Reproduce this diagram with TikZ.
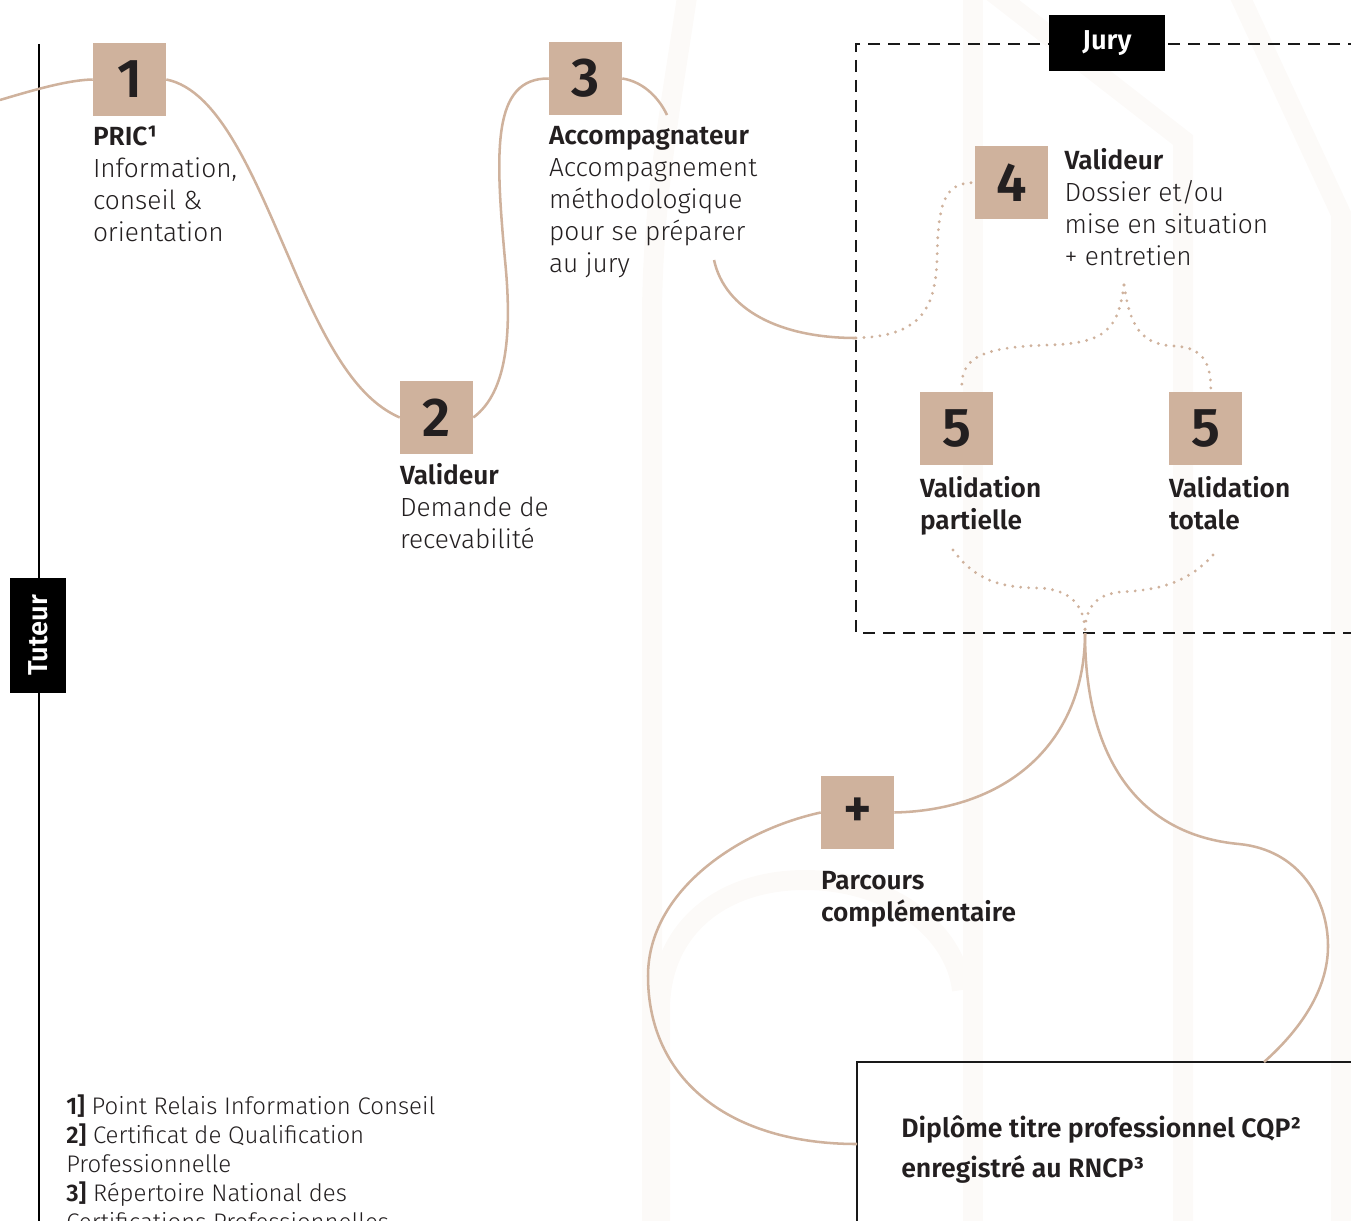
\documentclass[tikz,border=0pt]{standalone}
\usepackage{fontspec}
\setmainfont{Fira Sans}[UprightFont={* Light},BoldFont={* SemiBold}]
\usetikzlibrary{positioning}
\definecolor{tan}{RGB}{207,178,157}
\definecolor{faint}{RGB}{252,250,248}
\definecolor{ink}{RGB}{35,31,32}

\begin{document}
\begin{tikzpicture}[x=0.75pt,y=-0.75pt,
    numbox/.style={fill=tan,minimum size=54.75pt,inner sep=0pt,text=ink,font=\fontsize{41}{41}\selectfont\bfseries},
    lbl/.style={inner sep=0pt,align=left,text=ink,font=\fontsize{19.7}{24}\selectfont},
    link/.style={draw=tan,line width=1.9pt},
    dots/.style={draw=tan,line width=2.4pt,line cap=round,dash pattern=on 0pt off 6pt},
    tag/.style={fill=black,text=white,inner sep=0pt,font=\fontsize{20.5}{24}\selectfont\bfseries},
    bgband/.style={draw=faint,line width=15pt}]

\useasboundingbox (0,0) rectangle (1351,1220);
\clip (0,0) rectangle (1351,1220);

% faint background bands
\draw[bgband] (688,-10) .. controls (672,100) and (652,200) .. (652,320) -- (652,1230);
\draw[bgband] (973,-10) -- (973,1230);
\draw[bgband] (990,-10) -- (1183,140) -- (1183,1230);
\draw[bgband] (1237,-10) -- (1341,214) -- (1341,1230);
\draw[bgband] (660,1230) -- (660,1010) .. controls (660,930) and (720,880) .. (805,880) .. controls (890,880) and (955,930) .. (962,990);

% tuteur line
\coordinate (ttop) at (39,44);
\coordinate (tbot) at (39,1230);
\draw[black,line width=2.2pt] (ttop) -- (tbot);
\node[tag,rotate=90,minimum width=86pt,minimum height=42pt] (tut) at (38,635.5) {Tuteur};

% steps
\node[numbox] (b1) at (129.5,79.5) {1};
\node[numbox] (b2) at (436.5,417.5) {2};
\node[numbox] (b3) at (585.5,78.5) {3};
\node[numbox] (b4) at (1011.5,182.5) {4};
\node[numbox] (b5a) at (956.5,428.5) {5};
\node[numbox] (b5b) at (1205.5,428.5) {5};
\node[numbox] (bp) at (857.5,812.5) {+};

\node[lbl,below right=7pt and 0pt of b1.south west] (l1) {\textbf{PRIC¹}\\Information,\\conseil \&\\orientation};
\node[lbl,below right=7pt and 0pt of b2.south west] (l2) {\textbf{Valideur}\\Demande de\\recevabilité};
\node[lbl,below right=8pt and 0pt of b3.south west] (l3) {\textbf{Accompagnateur}\\Accompagnement\\méthodologique\\pour se préparer\\au jury};
\node[lbl,below right=2pt and 12pt of b4.north east] (l4) {\textbf{Valideur}\\Dossier et/ou\\mise en situation\\+ entretien};
\node[lbl,below right=8pt and 0pt of b5a.south west,font=\fontsize{19.7}{24}\selectfont\bfseries] (l5a) {Validation\\partielle};
\node[lbl,below right=8pt and 0pt of b5b.south west,font=\fontsize{19.7}{24}\selectfont\bfseries] (l5b) {Validation\\totale};
\node[lbl,below right=16pt and 0pt of bp.south west,font=\fontsize{19.7}{24}\selectfont\bfseries] (lp) {Parcours\\complémentaire};

% jury frame
\draw[black!90,line width=2pt,dash pattern=on 9pt off 6pt] (1360,44) -| (856,633) -- (1360,633);
\node[tag,minimum width=87pt,minimum height=42pt] (jury) at (1107,43) {Jury};
\coordinate (jin) at (856,338);
\coordinate (jout) at (1085,633);

% diploma
\draw[black!90,line width=1.9pt] (1360,1062) -| (857,1230);
\coordinate (dtop) at (1264,1062);
\coordinate (dleft) at (857,1144);
\node[lbl,anchor=north west,font=\fontsize{20}{30}\selectfont\bfseries] (dip) at (901,1115) {Diplôme titre professionnel CQP²\\enregistré au RNCP³};

% notes
\node[lbl,anchor=north west,font=\fontsize{18}{21.75}\selectfont] (notes) at (66,1095) {\textbf{1]} Point Relais Information Conseil\\\textbf{2]} Certificat de Qualification\\Professionnelle\\\textbf{3]} Répertoire National des\\Certifications Professionnelles};

% connectors
\coordinate (lin) at (0,100);
\coordinate (c3a) at (667,115);
\coordinate (c3b) at (714,260);
\draw[link] (lin) .. controls (40,88) and (70,80) .. (b1.west);
\draw[link] (b1.east) .. controls (220,90) and (255,180) .. (290,260) .. controls (330,355) and (360,400) .. (b2.west);
\draw[link] (b2.east) .. controls (508,392) and (512,330) .. (505,260) .. controls (495,150) and (492,78) .. (b3.west);
\draw[link] (b3.east) .. controls (645,82) and (660,100) .. (c3a);
\draw[link] (c3b) .. controls (725,310) and (780,338) .. (jin);
\draw[dots] (jin) .. controls (920,336) and (935,310) .. (937,260) .. controls (938,200) and (945,183) .. (b4.west);
\coordinate (f4) at (1124,285);
\draw[dots] (f4) .. controls (1118,330) and (1105,343) .. (1050,345) .. controls (975,347) and (960,360) .. ([xshift=4pt]b5a.north);
\draw[dots] (f4) .. controls (1130,325) and (1140,345) .. (1175,346) .. controls (1205,348) and (1211,365) .. ([xshift=4pt]b5b.north);
\coordinate (p5a) at (953,550);
\coordinate (p5b) at (1213,555);
\draw[dots] (p5a) .. controls (975,580) and (1000,588) .. (1040,588) .. controls (1075,590) and (1085,610) .. (jout);
\draw[dots] (p5b) .. controls (1190,580) and (1165,590) .. (1120,592) .. controls (1090,595) and (1085,615) .. (jout);
\draw[link] (jout) .. controls (1085,740) and (1010,810) .. (bp.east);
\draw[link] (jout) .. controls (1085,760) and (1140,835) .. (1239,844) .. controls (1300,850) and (1328,900) .. (1328,946) .. controls (1328,990) and (1300,1030) .. (dtop);
\draw[link] (bp.west) .. controls (740,830) and (648,890) .. (648,976) .. controls (648,1080) and (730,1144) .. (dleft);
\end{tikzpicture}
\end{document}
